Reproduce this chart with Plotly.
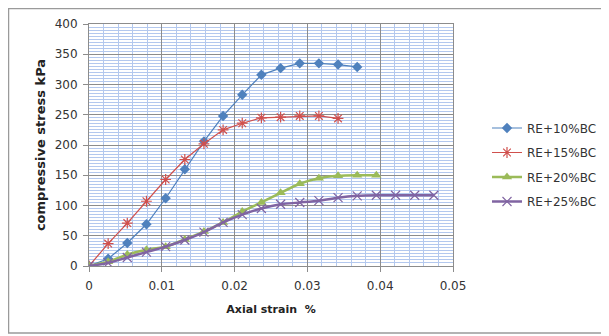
import plotly.graph_objects as go

# Axial strain (%) values
strain_10 = [0, 0.00263, 0.00526, 0.00789, 0.01053, 0.01316, 0.01579, 0.01842, 0.02105, 0.02368, 0.02632, 0.02895, 0.03158, 0.03421, 0.03684]
stress_10 = [0, 12, 38, 69, 112, 160, 206, 248, 283, 316, 327, 335, 335, 333, 329]

strain_15 = [0, 0.00263, 0.00526, 0.00789, 0.01053, 0.01316, 0.01579, 0.01842, 0.02105, 0.02368, 0.02632, 0.02895, 0.03158, 0.03421]
stress_15 = [0, 37, 71, 107, 143, 176, 202, 225, 236, 245, 246, 248, 248, 244]

strain_20 = [0, 0.00263, 0.00526, 0.00789, 0.01053, 0.01316, 0.01579, 0.01842, 0.02105, 0.02368, 0.02632, 0.02895, 0.03158, 0.03421, 0.03684, 0.03947]
stress_20 = [0, 7, 19, 27, 32, 44, 57, 72, 90, 105, 121, 136, 145, 149, 150, 150]

strain_25 = [0, 0.00263, 0.00526, 0.00789, 0.01053, 0.01316, 0.01579, 0.01842, 0.02105, 0.02368, 0.02632, 0.02895, 0.03158, 0.03421, 0.03684, 0.03947, 0.04211, 0.04474, 0.04737]
stress_25 = [0, 5, 14, 23, 32, 43, 56, 72, 85, 95, 102, 105, 108, 113, 116, 117, 117, 117, 117]

series_names = ["RE+10%BC", "RE+15%BC", "RE+20%BC", "RE+25%BC"]
x_ticks = [0, 0.01, 0.02, 0.03, 0.04, 0.05]
x_tick_labels = ["0", "0.01", "0.02", "0.03", "0.04", "0.05"]
y_ticks = [0, 50, 100, 150, 200, 250, 300, 350, 400]

FONT = "DejaVu Sans"

fig = go.Figure()
fig.add_trace(go.Scatter(
    x=strain_10, y=stress_10, name=series_names[0], mode="lines+markers",
    line=dict(color="#4F81BD", width=1.2),
    marker=dict(symbol="diamond", size=8, color="#4F81BD"),
    legendgroup="a"))
fig.add_trace(go.Scatter(
    x=strain_15, y=stress_15, name=series_names[1], mode="lines+markers",
    line=dict(color="#D0504D", width=1.2),
    marker=dict(symbol="asterisk-open", size=9, color="#D0504D", line=dict(color="#D0504D", width=1.2)),
    legendgroup="b"))
fig.add_trace(go.Scatter(
    x=strain_20, y=stress_20, name=series_names[2], mode="lines+markers",
    line=dict(color="#9BBB59", width=2.5, shape="spline", smoothing=0.6),
    marker=dict(symbol="triangle-up", size=9, color="#9BBB59"),
    legendgroup="c"))
fig.add_trace(go.Scatter(
    x=strain_25, y=stress_25, name=series_names[3], mode="lines+markers",
    line=dict(color="#8064A2", width=2.5, shape="spline", smoothing=0.6),
    marker=dict(symbol="x-thin-open", size=9, color="#8064A2", line=dict(color="#9E8CC0", width=1.2)),
    legendgroup="d"))

# page has an 8px body margin
OFF = 8
W, H = 609 - OFF, 336 - OFF
L, T = 89 - OFF, 24 - OFF
R = W - (453 - OFF)
B = H - (266 - OFF)
pw = W - L - R
ph = H - T - B

def px_to_paper_x(px):
    return (px - OFF - L) / pw

def px_to_paper_y(py):
    return (H - B - (py - OFF)) / ph

fig.update_layout(
    width=W, height=H,
    margin=dict(l=L, r=R, t=T, b=B, autoexpand=False),
    paper_bgcolor="white", plot_bgcolor="white",
    font=dict(family=FONT, size=12, color="#333333"),
    showlegend=True,
    legend=dict(
        x=px_to_paper_x(487), xanchor="left",
        y=px_to_paper_y(165), yanchor="middle",
        font=dict(family=FONT, size=12, color="#333333"),
        tracegroupgap=5.5, bgcolor="rgba(0,0,0,0)",
        itemwidth=30,
    ),
    xaxis=dict(
        range=[0, 0.05], tickvals=x_ticks, ticktext=x_tick_labels,
        showgrid=True, gridcolor="#8C8C8C", gridwidth=1,
        minor=dict(dtick=0.002, showgrid=True, gridcolor="#B3C8EE", gridwidth=1),
        zeroline=False, showline=True, linecolor="#8C8C8C", mirror=True,
        ticks="outside", ticklen=5, tickcolor="#8C8C8C",
        ticklabelstandoff=4,
        tickfont=dict(family=FONT, size=12, color="#333333"),
        title=dict(text="<b>Axial strain  %</b>", font=dict(family=FONT, size=11, color="#222222"), standoff=12),
    ),
    yaxis=dict(
        range=[0, 400], tickvals=y_ticks,
        showgrid=True, gridcolor="#8C8C8C", gridwidth=1,
        minor=dict(dtick=5, showgrid=True, gridcolor="#B3C8EE", gridwidth=1),
        zeroline=False, showline=True, linecolor="#8C8C8C", mirror=True,
        ticks="outside", ticklen=5, tickcolor="#8C8C8C",
        ticklabelstandoff=3,
        tickfont=dict(family=FONT, size=12, color="#333333"),
        title=dict(text="<b>compressive stress kPa</b>", font=dict(family=FONT, size=13, color="#222222"), standoff=6),
    ),
    shapes=[dict(type="rect", xref="paper", yref="paper",
                 x0=px_to_paper_x(8.5), x1=px_to_paper_x(620),
                 y0=px_to_paper_y(333), y1=px_to_paper_y(8.5),
                 line=dict(color="#9A9A9A", width=1.5), fillcolor="rgba(0,0,0,0)", layer="below")],
)

fig.write_html("out.html")
